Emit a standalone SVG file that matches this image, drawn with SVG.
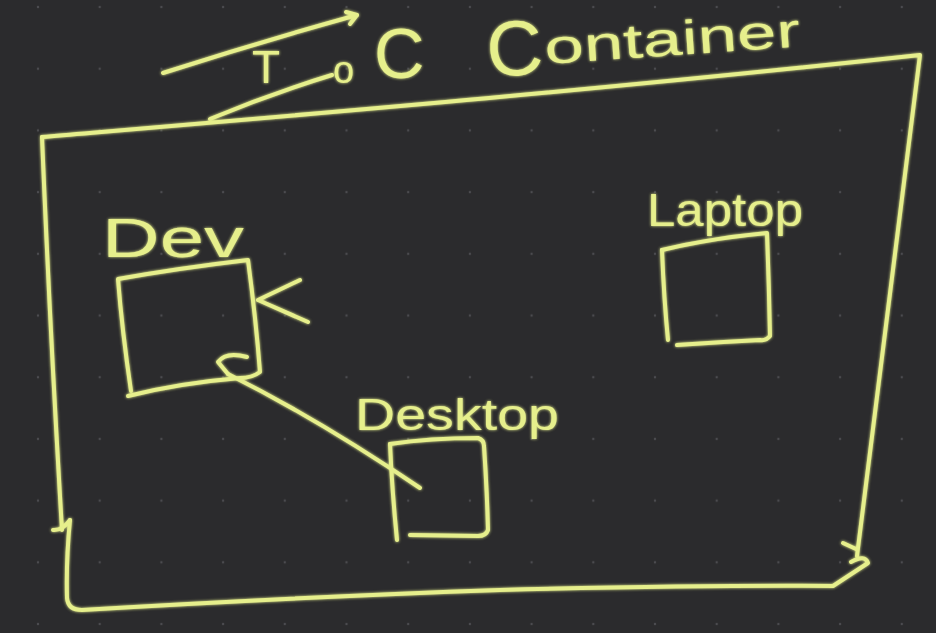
<svg xmlns="http://www.w3.org/2000/svg" width="936" height="633" viewBox="0 0 936 633">
<defs>
<pattern id="dots" patternUnits="userSpaceOnUse" x="7.15" y="-23.85" width="61.7" height="61.7">
<circle cx="30.85" cy="30.85" r="1.2" fill="#4c4c50"/>
</pattern>
<filter id="glow" x="-5%" y="-5%" width="110%" height="110%">
<feGaussianBlur in="SourceGraphic" stdDeviation="1.6" result="b"/>
<feMerge><feMergeNode in="b"/><feMergeNode in="SourceGraphic"/></feMerge>
</filter>
<style>
.ink{fill:none;stroke:#e6ef8c;stroke-width:4;stroke-linecap:round;stroke-linejoin:round}
.txt{fill:#e6ef8c;font-family:"Liberation Sans","DejaVu Sans",sans-serif}
</style>
</defs>
<rect width="936" height="633" fill="#2b2b2d"/>
<rect width="936" height="633" fill="url(#dots)"/>
<g filter="url(#glow)">
<g id="title">
<text class="txt" x="252" y="83" font-size="46">T</text>
<text class="txt" x="333" y="83" font-size="38">o</text>
<text class="txt" x="374" y="78" font-size="70">C</text>
<g transform="rotate(-4 490 72)">
<text class="txt" x="488" y="77" font-size="78">C</text>
<text class="txt" x="546" y="68" font-size="48" textLength="256" lengthAdjust="spacingAndGlyphs">ontainer</text>
</g>
</g>
<g id="container">
<path class="ink" d="M42 137 C300 115 600 90 920 55 L857 556"/>
<path class="ink" d="M42 137 Q50 330 62 530"/>
<path class="ink" d="M53 530 Q62 531 70 520"/>
<path class="ink" d="M70 520 Q66 560 67 598 Q68 610 82 610 Q300 597 500 590 Q700 585 833 586 L868 563 Q865 554 851 562"/>
<path class="ink" d="M843 543 L856 549"/>
</g>
<g id="dev">
<text class="txt" x="102" y="257" font-size="56" textLength="142" lengthAdjust="spacingAndGlyphs">Dev</text>
<path class="ink" d="M131 391 Q122 330 118 279 Q180 268 248 260 Q256 320 260 372 Q252 378 240 378 Q180 383 128 396"/>
</g>
<g id="desktop">
<text class="txt" x="355" y="430" font-size="44" textLength="204" lengthAdjust="spacingAndGlyphs">Desktop</text>
<path class="ink" d="M390 444 Q430 438 478 438 Q484 440 484 446 Q487 490 488 530 Q486 536 478 536 L410 535"/>
<path class="ink" d="M390 444 Q392 490 397 540"/>
</g>
<g id="laptop">
<text class="txt" x="647" y="226" font-size="46" textLength="156" lengthAdjust="spacingAndGlyphs">Laptop</text>
<path class="ink" d="M662 250 Q712 238 767 233 Q769 285 770 336 Q766 341 760 340 Q720 342 677 345"/>
<path class="ink" d="M662 250 Q664 300 668 340"/>
</g>
<g id="connectors">
<path class="ink" d="M163 73 Q260 42 357 15"/>
<path class="ink" d="M346 12 L357 15 L350 24"/>
<path class="ink" d="M210 119 Q270 94 332 75"/>
<path class="ink" d="M258 300 L300 280 M258 300 L308 322"/>
<path class="ink" d="M420 488 Q320 420 228 374"/>
<path class="ink" d="M247 357 Q226 351 218 362 L228 374"/>
</g>
</g>
</svg>
